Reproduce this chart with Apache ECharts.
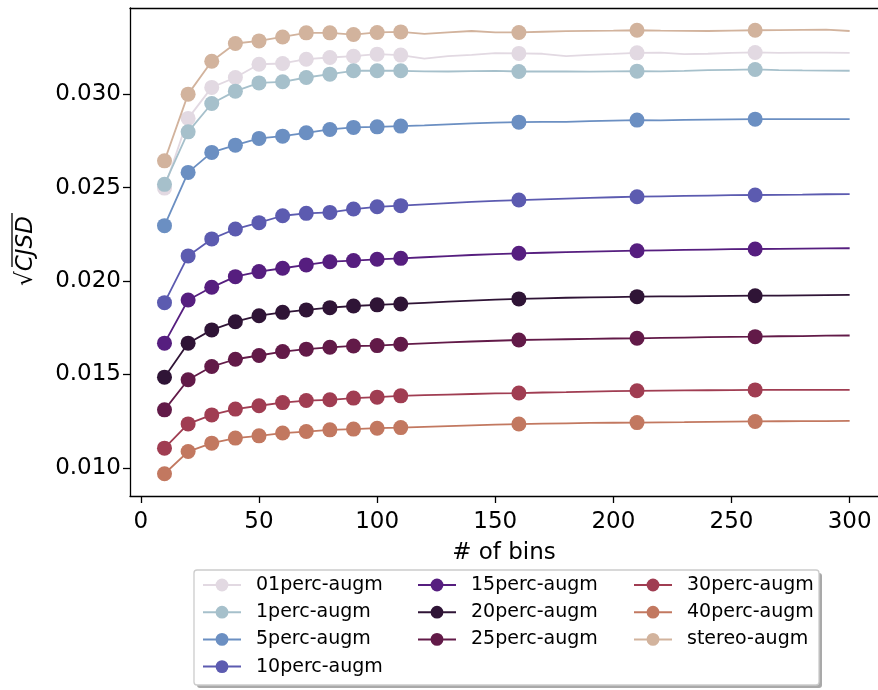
<!DOCTYPE html>
<html>
<head>
<meta charset="utf-8">
<script src="https://cdn.jsdelivr.net/npm/echarts@6/dist/echarts.min.js"></script>
<style>
html,body{margin:0;padding:0;background:#fff;}
#chart{width:878px;height:690px;}
</style>
</head>
<body>
<div id="chart"></div>
<script>
// ---- data ----
var binsX = [10,20,30,40,50,60,70,80,90,100,110,120,130,140,150,160,170,180,190,200,210,220,230,240,250,260,270,280,290,300];
var markedBins = [10,20,30,40,50,60,70,80,90,100,110,160,210,260];
var xTicks = [0,50,100,150,200,250,300];
var yTicks = [0.010,0.015,0.020,0.025,0.030];

var seriesNames = ['01perc-augm','1perc-augm','5perc-augm','10perc-augm','15perc-augm','20perc-augm','25perc-augm','30perc-augm','40perc-augm','stereo-augm'];
var seriesColors = ['#e2d9e2','#a6c0cb','#6b8fc2','#5c5bb0','#561e7f','#2f1436','#621a48','#a03d52','#c27860','#d2b39d'];

var perc01 = [0.02497,0.0287,0.03036,0.03089,0.0316,0.03164,0.03187,0.03196,0.03203,0.03214,0.03209,0.0319,0.03203,0.0321,0.03219,0.03218,0.03216,0.03203,0.0321,0.03215,0.03221,0.03222,0.03214,0.03216,0.03221,0.03223,0.03221,0.03222,0.03222,0.03221];
var perc1 = [0.02517,0.02798,0.0295,0.03016,0.0306,0.03066,0.03089,0.03107,0.03125,0.03125,0.03125,0.03122,0.03121,0.03123,0.03124,0.03121,0.03122,0.03121,0.0312,0.03122,0.03123,0.03122,0.03124,0.03128,0.0313,0.03132,0.03129,0.03127,0.03126,0.03125];
var perc5 = [0.02296,0.02581,0.02688,0.02727,0.02763,0.02775,0.02793,0.02811,0.02822,0.02825,0.02829,0.02833,0.02838,0.02843,0.02847,0.0285,0.02852,0.02851,0.02855,0.02858,0.02861,0.0286,0.02862,0.02864,0.02865,0.02866,0.02866,0.02866,0.02866,0.02866];
var perc10 = [0.01884,0.02134,0.02225,0.02278,0.02312,0.02349,0.02362,0.02367,0.02385,0.02397,0.02403,0.0241,0.02417,0.02423,0.02429,0.02433,0.02437,0.02441,0.02445,0.02448,0.02451,0.02453,0.02455,0.02457,0.02459,0.0246,0.02461,0.02462,0.02464,0.02465];
var perc15 = [0.01667,0.01898,0.01966,0.02023,0.0205,0.02068,0.02086,0.02103,0.02109,0.02116,0.02121,0.02127,0.02133,0.02139,0.02144,0.02148,0.02151,0.02154,0.02157,0.0216,0.02162,0.02164,0.02166,0.02168,0.0217,0.02171,0.02172,0.02173,0.02174,0.02175];
var perc20 = [0.01485,0.01667,0.01738,0.01782,0.01814,0.01832,0.01845,0.01857,0.01866,0.01872,0.01877,0.01883,0.01889,0.01895,0.019,0.01904,0.01907,0.0191,0.01912,0.01914,0.01916,0.01917,0.01918,0.01919,0.0192,0.01921,0.01922,0.01923,0.01924,0.01925];
var perc25 = [0.0131,0.01471,0.01542,0.01581,0.01601,0.01622,0.01635,0.01645,0.01652,0.01654,0.01661,0.01666,0.01671,0.01676,0.0168,0.01684,0.01686,0.01688,0.0169,0.01692,0.01693,0.01695,0.01697,0.01699,0.01701,0.01702,0.01704,0.01705,0.01707,0.01708];
var perc30 = [0.01105,0.01235,0.01283,0.01314,0.01332,0.01349,0.0136,0.01364,0.01373,0.01378,0.01385,0.01389,0.01392,0.01395,0.01398,0.014,0.01403,0.01405,0.01408,0.0141,0.01412,0.01413,0.01414,0.01415,0.01416,0.01417,0.01417,0.01417,0.01417,0.01417];
var perc40 = [0.00968,0.01087,0.01132,0.01159,0.01171,0.01186,0.01194,0.01203,0.01207,0.01212,0.01215,0.01219,0.01223,0.01227,0.01231,0.01234,0.01236,0.01238,0.0124,0.01241,0.01242,0.01243,0.01244,0.01246,0.01247,0.01248,0.01249,0.0125,0.0125,0.01251];
var stereo = [0.02643,0.03,0.03176,0.03271,0.03285,0.03306,0.03328,0.03328,0.03319,0.0333,0.03333,0.03322,0.0333,0.03338,0.0333,0.0333,0.03334,0.03337,0.03339,0.0334,0.03342,0.0334,0.03339,0.03338,0.0334,0.03342,0.03343,0.03344,0.03345,0.03338];

var seriesValues = [perc01,perc1,perc5,perc10,perc15,perc20,perc25,perc30,perc40,stereo];

// ---- chart ----
var FONT = 'DejaVu Sans';
var chart = echarts.init(document.getElementById('chart'), null, {renderer:'canvas'});

function buildData(vals){
  return binsX.map(function(x,i){
    var item = {value:[x, vals[i]]};
    if (markedBins.indexOf(x) < 0) { item.symbol = 'none'; }
    return item;
  });
}

var series = seriesNames.map(function(name, k){
  return {
    name: name,
    type: 'line',
    data: buildData(seriesValues[k]),
    symbol: 'circle',
    symbolSize: 15,
    showSymbol: true,
    showAllSymbol: true,
    color: seriesColors[k],
    lineStyle: {width: 1.8, color: seriesColors[k]},
    itemStyle: {color: seriesColors[k]},
    emphasis: {disabled: true},
    z: 2 + k,
    animation: false
  };
});

function legendCol(names, left){
  return {
    orient: 'vertical',
    left: left,
    top: 574.5,
    data: names,
    itemWidth: 38,
    itemHeight: 16,
    itemGap: 6.2,
    padding: 0,
    selectedMode: false,
    textStyle: {fontFamily: FONT, fontSize: 19, color: '#000', lineHeight: 21, padding: [0,0,0,10]}
  };
}

var axisLineStyle = {color:'#000', width:1.3};

var option = {
  backgroundColor: '#fff',
  animation: false,
  grid: {left: 130, top: 8, width: 748, height: 488},
  xAxis: [{
    type: 'value',
    min: -4.6, max: 312.0,
    name: '# of bins',
    nameLocation: 'middle',
    nameGap: 46,
    nameTextStyle: {fontFamily: FONT, fontSize: 23, color:'#000'},
    axisLine: {show:true, onZero:false, lineStyle: axisLineStyle},
    axisTick: {show:true, length:7, lineStyle: axisLineStyle, customValues: xTicks},
    axisLabel: {fontFamily: FONT, fontSize: 23, color:'#000', margin: 15, customValues: xTicks},
    splitLine: {show:false}
  },{
    type: 'value',
    position: 'top',
    min: -4.6, max: 312.0,
    axisLine: {show:true, onZero:false, lineStyle: axisLineStyle},
    axisTick: {show:false},
    axisLabel: {show:false},
    splitLine: {show:false}
  }],
  yAxis: {
    type: 'value',
    min: 0.00849, max: 0.03461,
    axisLine: {show:true, onZero:false, lineStyle: axisLineStyle},
    axisTick: {show:true, length:7, lineStyle: axisLineStyle, customValues: yTicks},
    axisLabel: {fontFamily: FONT, fontSize: 23, color:'#000', margin: 9, customValues: yTicks,
      formatter: function(v){ return v.toFixed(3); }},
    splitLine: {show:false}
  },
  legend: [
    legendCol(seriesNames.slice(0,4), 202),
    legendCol(seriesNames.slice(4,7), 417),
    legendCol(seriesNames.slice(7,10), 633)
  ],
  graphic: [
    {type:'rect', z: 1, shape:{x:197, y:573, width:625, height:115, r:3}, style:{fill:'#a9a9a9'}},
    {type:'rect', z: 1, shape:{x:194, y:570, width:625, height:115, r:3}, style:{fill:'#fff', stroke:'#cccccc', lineWidth:1.3}},
    {type:'group', x: 26, y: 251, rotation: Math.PI/2, z: 5, children: [
      {type:'text', style:{text:'{a|√}{b|CJSD}', x:0, y:0, align:'center', verticalAlign:'middle', fill:'#000',
        rich:{a:{fontFamily:FONT, fontSize:23, fill:'#000'}, b:{fontFamily:FONT, fontSize:23, fontStyle:'italic', fill:'#000'}}}},
      {type:'line', shape:{x1:-16, y1:-14, x2:38, y2:-14}, style:{stroke:'#000', lineWidth:1.3}}
    ]}
  ],
  series: series
};
chart.setOption(option);
</script>
</body>
</html>
